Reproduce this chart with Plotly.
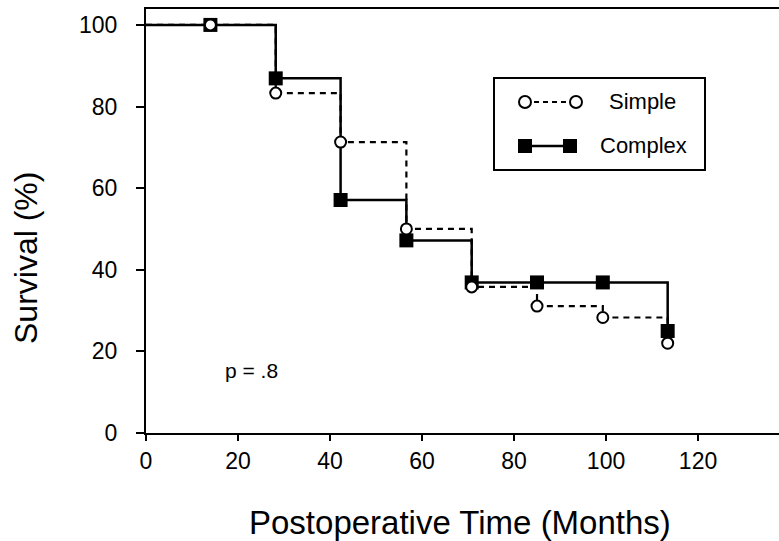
import plotly.graph_objects as go

# Data
months = [0, 14, 28.2, 42.3, 56.6, 70.8, 85, 99.3, 113.4]
simple_surv = [100, 100, 83.3, 71.3, 50.0, 35.8, 31.1, 28.3, 22.0]
complex_surv = [100, 100, 86.9, 57.1, 47.2, 36.9, 36.9, 36.9, 25.0]
x_ticks = [0, 20, 40, 60, 80, 100, 120]
y_ticks = [0, 20, 40, 60, 80, 100]

FONT = "Liberation Sans, Arial, sans-serif"

fig = go.Figure()

# Complex (solid, filled squares) - drawn first (under)
fig.add_trace(go.Scatter(x=months, y=complex_surv, mode="lines", line_shape="hv",
                         line=dict(color="black", width=2.5), showlegend=False, hoverinfo="skip"))
fig.add_trace(go.Scatter(x=months[1:], y=complex_surv[1:], mode="markers",
                         marker=dict(symbol="square", size=14, color="black"),
                         showlegend=False, name="Complex"))
# Simple (dashed, open circles)
fig.add_trace(go.Scatter(x=months, y=simple_surv, mode="lines", line_shape="hv",
                         line=dict(color="black", width=2.2, dash="6px,5px"), showlegend=False, hoverinfo="skip"))
fig.add_trace(go.Scatter(x=months[1:], y=simple_surv[1:], mode="markers",
                         marker=dict(symbol="circle", size=11, color="white",
                                     line=dict(color="black", width=2)),
                         showlegend=False, name="Simple"))

L, T, R, B = 146, 9, 0, 108
W, H = 779, 541
pw, ph = W - L - R, H - T - B

def px(xp):
    return (xp - L) / pw

def py(yp):
    return (H - B - yp) / ph

shapes = []
# legend box
shapes.append(dict(type="rect", xref="paper", yref="paper", x0=px(494), x1=px(705),
                   y0=py(170), y1=py(78), line=dict(color="black", width=2), fillcolor="white", layer="above"))
# Simple legend sample
shapes.append(dict(type="line", xref="paper", yref="paper", x0=px(525), x1=px(576),
                   y0=py(102), y1=py(102), line=dict(color="black", width=2, dash="5px,4px")))
for cx in (525, 576):
    shapes.append(dict(type="circle", xref="paper", yref="paper", xsizemode="pixel", ysizemode="pixel",
                       xanchor=px(cx), yanchor=py(102), x0=-6, x1=6, y0=-6, y1=6,
                       line=dict(color="black", width=2), fillcolor="white"))
# Complex legend sample
shapes.append(dict(type="line", xref="paper", yref="paper", x0=px(525), x1=px(570),
                   y0=py(146), y1=py(146), line=dict(color="black", width=2.5)))
for cx in (525, 570):
    shapes.append(dict(type="rect", xref="paper", yref="paper", xsizemode="pixel", ysizemode="pixel",
                       xanchor=px(cx), yanchor=py(146), x0=-7, x1=7, y0=-7, y1=7,
                       line=dict(color="black", width=0), fillcolor="black"))

annotations = [
    dict(text="Simple", xref="paper", yref="paper", x=px(607), y=py(102), xanchor="left", yanchor="middle",
         showarrow=False, font=dict(family=FONT, size=22, color="black")),
    dict(text="Complex", xref="paper", yref="paper", x=px(598), y=py(146), xanchor="left", yanchor="middle",
         showarrow=False, font=dict(family=FONT, size=22, color="black")),
    dict(text="p = .8", xref="x", yref="y", x=23, y=15.2, xanchor="center", yanchor="middle",
         showarrow=False, font=dict(family=FONT, size=21, color="black")),
    dict(text="Postoperative Time (Months)", xref="paper", yref="paper", x=px(460), y=py(522),
         xanchor="center", yanchor="middle", showarrow=False, font=dict(family=FONT, size=33, color="black")),
    dict(text="Survival (%)", xref="paper", yref="paper", x=px(26), y=py(258), textangle=-90,
         xanchor="center", yanchor="middle", showarrow=False, font=dict(family=FONT, size=32, color="black")),
]

fig.update_layout(
    width=W, height=H,
    margin=dict(l=L, r=R, t=T, b=B, pad=0),
    paper_bgcolor="white", plot_bgcolor="white",
    font=dict(family=FONT, color="black"),
    shapes=shapes, annotations=annotations,
    showlegend=False,
)
fig.update_xaxes(range=[0, 137.6], tickvals=x_ticks, ticktext=[str(v) for v in x_ticks],
                 showgrid=False, zeroline=False, showline=True, linecolor="black", linewidth=2,
                 mirror=True, ticks="outside", ticklen=6, tickwidth=2, tickcolor="black",
                 tickfont=dict(family=FONT, size=23, color="black"), ticklabelstandoff=0)
fig.update_yaxes(range=[0, 103.9], tickvals=y_ticks, ticktext=[str(v) for v in y_ticks],
                 showgrid=False, zeroline=False, showline=True, linecolor="black", linewidth=2,
                 ticks="outside", ticklen=8, tickwidth=2, tickcolor="black",
                 tickfont=dict(family=FONT, size=23, color="black"), ticklabelstandoff=14)

fig.write_html("out.html", config={"displayModeBar": False},
               post_script="document.body.style.margin='0';document.body.style.overflow='hidden';")
